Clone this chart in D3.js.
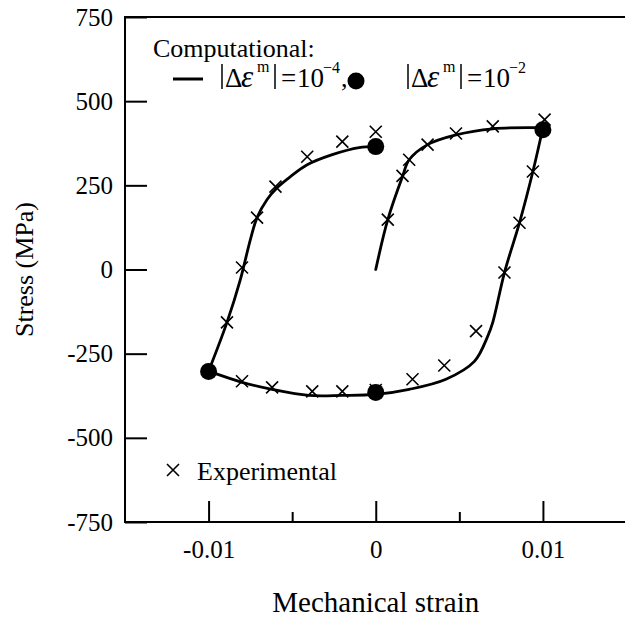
<!DOCTYPE html>
<html>
<head>
<meta charset="utf-8">
<script src="https://cdn.jsdelivr.net/npm/d3@7"></script>
<style>
  html, body { margin: 0; padding: 0; background: #fff; }
  svg { display: block; }
  svg text { font-family: "Liberation Serif", "Times New Roman", serif !important; fill: #000; }
</style>
</head>
<body>
<svg id="chart" width="625" height="618"></svg>
<script>
// ---- Data ----
// Computational curve |Δε^m| = 1e-4 (three branches)
const loadStrain   = [0, 0.00072, 0.0016, 0.002, 0.0031, 0.0048, 0.007, 0.01];
const loadStress   = [0, 148, 276, 326, 371, 400, 418, 421];
const unloadStrain = [0.01, 0.0094, 0.0086, 0.0077, 0.0070, 0.0067, 0.0059, 0.0042, 0.002, 0, -0.002, -0.004, -0.0062, -0.008, -0.01];
const unloadStress = [421, 291, 139, -9, -157, -198, -273, -326, -356, -371, -374, -374, -356, -335, -302];
const reloadStrain = [-0.01, -0.0089, -0.0081, -0.0075, -0.0071, -0.0065, -0.0059, -0.0051, -0.0041, -0.0026, -0.001, 0];
const reloadStress = [-302, -157, -30, 89, 154, 208, 243, 276, 311, 341, 362, 365];

// Computational points |Δε^m| = 1e-2
const dotStrain = [-0.01, 0, 0, 0.01];
const dotStress = [-303, -365, 365, 415];

// Experimental points
const expStrain = [0.00072, 0.0016, 0.002, 0.0031, 0.0048, 0.007, 0.0101, 0.0094, 0.0086, 0.0077, 0.006, 0.0041, 0.0022, 0, -0.002, -0.0038, -0.0062, -0.008, -0.0089, -0.008, -0.0071, -0.006, -0.0041, -0.002, 0];
const expStress = [148, 278, 326, 371, 404, 425, 445, 291, 139, -9, -183, -285, -326, -358, -362, -362, -350, -332, -157, 6, 154, 246, 335, 380, 409];

const xTicks = [-0.01, 0, 0.01];
const xTickLabels = ["-0.01", "0", "0.01"];
const xMinorTicks = [-0.005, 0.005];
const yTicks = [-750, -500, -250, 0, 250, 500, 750];
const yTickLabels = ["-750", "-500", "-250", "0", "250", "500", "750"];

// ---- Layout ----
const svg = d3.select("#chart");
const pLeft = 125, pRight = 626.5, pTop = 17, pBottom = 522;
const x = d3.scaleLinear().domain([-0.015, 0.015]).range([pLeft, pRight]);
const y = d3.scaleLinear().domain([-750, 750]).range([pBottom, pTop]);
const serif = '"Liberation Serif", "Times New Roman", serif';

// Frame
svg.append("rect")
  .attr("x", pLeft).attr("y", pTop)
  .attr("width", pRight - pLeft).attr("height", pBottom - pTop)
  .attr("fill", "none").attr("stroke", "#000").attr("stroke-width", 2);

// Y axis
const yAxis = svg.append("g").attr("transform", `translate(${pLeft},0)`)
  .call(d3.axisLeft(y).tickValues(yTicks).tickFormat((d, i) => yTickLabels[i])
        .tickSizeInner(-22).tickSizeOuter(0).tickPadding(12));
yAxis.attr("font-family", serif).attr("font-size", 25);
yAxis.select(".domain").remove();
yAxis.selectAll("line").attr("stroke", "#000").attr("stroke-width", 2);
yAxis.selectAll("text").style("font-family", serif).style("font-size", "25px").attr("fill", "#000");

// X axis (major)
const xAxis = svg.append("g").attr("transform", `translate(0,${pBottom})`)
  .call(d3.axisBottom(x).tickValues(xTicks).tickFormat((d, i) => xTickLabels[i])
        .tickSizeInner(-21).tickSizeOuter(0).tickPadding(18));
xAxis.attr("font-family", serif).attr("font-size", 25);
xAxis.select(".domain").remove();
xAxis.selectAll("line").attr("stroke", "#000").attr("stroke-width", 2);
xAxis.selectAll("text").style("font-family", serif).style("font-size", "25px").attr("fill", "#000");

// X axis (minor)
const xMinor = svg.append("g").attr("transform", `translate(0,${pBottom})`)
  .call(d3.axisBottom(x).tickValues(xMinorTicks).tickFormat("")
        .tickSizeInner(-10).tickSizeOuter(0));
xMinor.select(".domain").remove();
xMinor.selectAll("line").attr("stroke", "#000").attr("stroke-width", 2);

// Axis titles
svg.append("text")
  .attr("x", x(0)).attr("y", 612)
  .attr("text-anchor", "middle").attr("font-size", 29)
  .text("Mechanical strain");
svg.append("text")
  .attr("transform", `translate(33,${y(0)}) rotate(-90)`)
  .attr("text-anchor", "middle").attr("font-size", 26)
  .text("Stress (MPa)");

// Computational line
const line = d3.line().x(d => x(d[0])).y(d => y(d[1])).curve(d3.curveCatmullRom.alpha(0.5));
[[loadStrain, loadStress], [unloadStrain, unloadStress], [reloadStrain, reloadStress]].forEach(([sx, sy]) => {
  svg.append("path")
    .datum(sx.map((v, i) => [v, sy[i]]))
    .attr("d", line)
    .attr("fill", "none").attr("stroke", "#000").attr("stroke-width", 2.8)
    .attr("stroke-linejoin", "round").attr("stroke-linecap", "round");
});

// Experimental crosses
const cs = 6;
const crossPath = `M${-cs},${-cs}L${cs},${cs}M${-cs},${cs}L${cs},${-cs}`;
svg.append("g").selectAll("path")
  .data(expStrain.map((v, i) => [v, expStress[i]]))
  .join("path")
  .attr("transform", d => `translate(${x(d[0])},${y(d[1])})`)
  .attr("d", crossPath)
  .attr("fill", "none").attr("stroke", "#000").attr("stroke-width", 1.6);

// Computational dots
svg.append("g").selectAll("circle")
  .data(dotStrain.map((v, i) => [v, dotStress[i]]))
  .join("circle")
  .attr("cx", d => x(d[0])).attr("cy", d => y(d[1]))
  .attr("r", 8.5).attr("fill", "#000");

// ---- Legend ----
svg.append("text").attr("x", 153).attr("y", 57).attr("font-size", 26).text("Computational:");
svg.append("line").attr("x1", 173).attr("x2", 203).attr("y1", 79).attr("y2", 79)
  .attr("stroke", "#000").attr("stroke-width", 3);

function formula(x0, expo) {
  const g = svg.append("g");
  const bar = (bx) => g.append("line").attr("x1", bx).attr("x2", bx).attr("y1", 64).attr("y2", 89)
    .attr("stroke", "#000").attr("stroke-width", 1.5);
  bar(x0);
  const t = g.append("text").attr("font-size", 27).attr("y", 87);
  t.append("tspan").attr("x", x0 + 3).text("Δ");
  t.append("tspan").attr("x", x0 + 19).attr("font-style", "italic").attr("font-size", 31).text("ε");
  t.append("tspan").attr("x", x0 + 35).attr("y", 72).attr("font-size", 16).text("m");
  bar(x0 + 53);
  const t2 = g.append("text").attr("font-size", 27).attr("y", 87);
  t2.append("tspan").attr("x", x0 + 59).text("=");
  t2.append("tspan").attr("x", x0 + 75).text("10");
  t2.append("tspan").attr("x", x0 + 101).attr("y", 73).attr("font-size", 16).text("−" + expo);
  return g;
}
formula(222, "4");
svg.append("text").attr("x", 341).attr("y", 87).attr("font-size", 26).text(",");
svg.append("circle").attr("cx", 356).attr("cy", 81).attr("r", 8.5).attr("fill", "#000");
formula(408, "2");

// Experimental legend
svg.append("path").attr("transform", "translate(173,470)").attr("d", crossPath)
  .attr("fill", "none").attr("stroke", "#000").attr("stroke-width", 1.6);
svg.append("text").attr("x", 197).attr("y", 480).attr("font-size", 26).text("Experimental");
</script>
</body>
</html>
